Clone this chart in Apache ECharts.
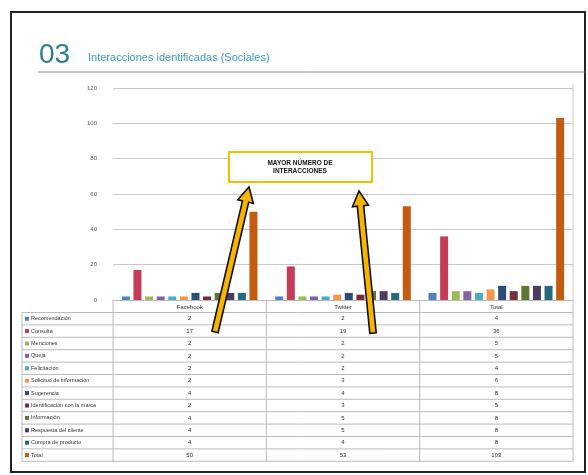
<!DOCTYPE html>
<html>
<head>
<meta charset="utf-8">
<script src="https://cdn.jsdelivr.net/npm/echarts@6/dist/echarts.min.js"></script>
<style>
  html, body { margin: 0; padding: 0; background: #fff; }
  #chart { width: 588px; height: 475px; }
</style>
</head>
<body>
<div id="chart"></div>
<script>
// categories and series
const categories = ['Facebook', 'Twitter', 'Total'];
const seriesNames = [
  'Recomendación', 'Consulta', 'Menciones', 'Queja', 'Felicitación',
  'Solicitud de información', 'Sugerencia', 'Identificación con la marca',
  'Información', 'Respuesta del cliente', 'Compra de producto', 'Total'
];
const facebookValues = [2, 17, 2, 2, 2, 2, 4, 2, 4, 4, 4, 50];
const twitterValues  = [2, 19, 2, 2, 2, 3, 4, 3, 5, 5, 4, 53];
const totalValues    = [4, 36, 5, 5, 4, 6, 8, 5, 8, 8, 8, 103];
const yTickLabels = ['0', '20', '40', '60', '80', '100', '120'];

const SERIES_COLORS = ['#4f81bd', '#c43c58', '#9bbb59', '#8064a2', '#4bacc6', '#f79646',
  '#2c4d75', '#772c3a', '#5f7530', '#4d3b62', '#276a7c', '#c55a11'];
const GRID = {left: 113, right: 15, top: 88, bottom: 175};
const PLOT_RIGHT = 588 - GRID.right;
const TABLE_LEFT = 22;
const HEADER_BOTTOM = 312.5;
const ROW_H = 12.4;
const FONT = 'Liberation Sans, Arial, sans-serif';

const columns = [facebookValues, twitterValues, totalValues];
const colW = (PLOT_RIGHT - GRID.left) / categories.length;

function arrow(tail, tip) {
  const dx = tip[0] - tail[0], dy = tip[1] - tail[1];
  const len = Math.sqrt(dx * dx + dy * dy);
  const ux = dx / len, uy = dy / len, nx = -uy, ny = ux;
  const sw = 3.2, hw = 8, hl = 15;
  const bx = tip[0] - ux * hl, by = tip[1] - uy * hl;
  const pts = [
    [tail[0] + nx * sw, tail[1] + ny * sw],
    [bx + nx * sw, by + ny * sw],
    [bx + nx * hw, by + ny * hw],
    tip,
    [bx - nx * hw, by - ny * hw],
    [bx - nx * sw, by - ny * sw],
    [tail[0] - nx * sw, tail[1] - ny * sw]
  ];
  return {type: 'polygon', z: 100, shape: {points: pts},
    style: {fill: '#f7b500', stroke: '#111', lineWidth: 1.6}};
}

let graphics = [];
// slide frame, title and rule
graphics.push({type: 'rect', shape: {x: 11, y: 12, width: 574, height: 460},
  style: {fill: 'none', stroke: '#222', lineWidth: 2}});
graphics.push({type: 'text', x: 39, y: 41, style: {text: '03', fill: '#2b7f92',
  font: '28px Liberation Sans Narrow, ' + FONT}});
graphics.push({type: 'text', x: 88, y: 52, style: {text: 'Interacciones identificadas (Sociales)',
  fill: '#3a9fc0', font: '11px ' + FONT}});
graphics.push({type: 'line', shape: {x1: 38, y1: 72, x2: 585, y2: 72},
  style: {stroke: '#888', lineWidth: 1}});
graphics.push({type: 'line', shape: {x1: PLOT_RIGHT, y1: GRID.top - 4, x2: PLOT_RIGHT, y2: 300},
  style: {stroke: '#ccc', lineWidth: 1}});

// data table under the chart
const rowCount = seriesNames.length;
const tableBottom = HEADER_BOTTOM + rowCount * ROW_H;
for (let i = 0; i <= rowCount; i++) {
  const y = HEADER_BOTTOM + i * ROW_H;
  graphics.push({type: 'line', shape: {x1: TABLE_LEFT, y1: y, x2: PLOT_RIGHT, y2: y},
    style: {stroke: '#bbb', lineWidth: 1}});
}
graphics.push({type: 'line', shape: {x1: TABLE_LEFT, y1: HEADER_BOTTOM, x2: TABLE_LEFT, y2: tableBottom},
  style: {stroke: '#bbb', lineWidth: 1}});
for (let c = 0; c <= categories.length; c++) {
  const x = GRID.left + c * colW;
  graphics.push({type: 'line', shape: {x1: x, y1: 300, x2: x, y2: tableBottom},
    style: {stroke: '#bbb', lineWidth: 1}});
}
for (let i = 0; i < rowCount; i++) {
  const cy = HEADER_BOTTOM + (i + 0.5) * ROW_H;
  graphics.push({type: 'rect', shape: {x: 25, y: cy - 2, width: 4, height: 4},
    style: {fill: SERIES_COLORS[i]}});
  graphics.push({type: 'text', x: 31, y: cy, style: {text: seriesNames[i], fill: '#333',
    font: '5.5px ' + FONT, verticalAlign: 'middle'}});
  for (let c = 0; c < columns.length; c++) {
    graphics.push({type: 'text', x: GRID.left + (c + 0.5) * colW, y: cy,
      style: {text: String(columns[c][i]), fill: '#333', font: '6px ' + FONT,
        align: 'center', verticalAlign: 'middle'}});
  }
}

// callout box and arrows
graphics.push({type: 'rect', z: 90, shape: {x: 229, y: 152, width: 143, height: 30},
  style: {fill: '#fff', stroke: '#f2c200', lineWidth: 2}});
graphics.push({type: 'text', z: 91, x: 300, y: 167, style: {
  text: 'MAYOR NÚMERO DE\nINTERACCIONES', fill: '#111', font: 'bold 6.5px ' + FONT,
  align: 'center', verticalAlign: 'middle', lineHeight: 8}});
graphics.push(arrow([215, 332], [249, 187]));
graphics.push(arrow([373, 333], [359, 191]));

let series = seriesNames.map((name, i) => ({
  type: 'bar', name: name,
  data: columns.map(col => col[i]),
  barWidth: 8, barGap: '45%', barCategoryGap: '11%',
  itemStyle: {color: SERIES_COLORS[i]}
}));

let option = {
  animation: false,
  grid: GRID,
  xAxis: {
    type: 'category', data: categories,
    axisLine: {lineStyle: {color: '#bbb'}},
    axisTick: {show: false},
    axisLabel: {fontSize: 6, color: '#333', margin: 4, fontFamily: FONT}
  },
  yAxis: {
    type: 'value', min: 0, max: 120, interval: 20,
    axisLabel: {fontSize: 6, color: '#555', margin: 16, fontFamily: FONT,
      formatter: (v, idx) => yTickLabels[idx]},
    splitLine: {lineStyle: {color: '#c8c8c8'}}
  },
  series: series,
  graphic: graphics
};

const chart = echarts.init(document.getElementById('chart'));
chart.setOption(option);
</script>
</body>
</html>
